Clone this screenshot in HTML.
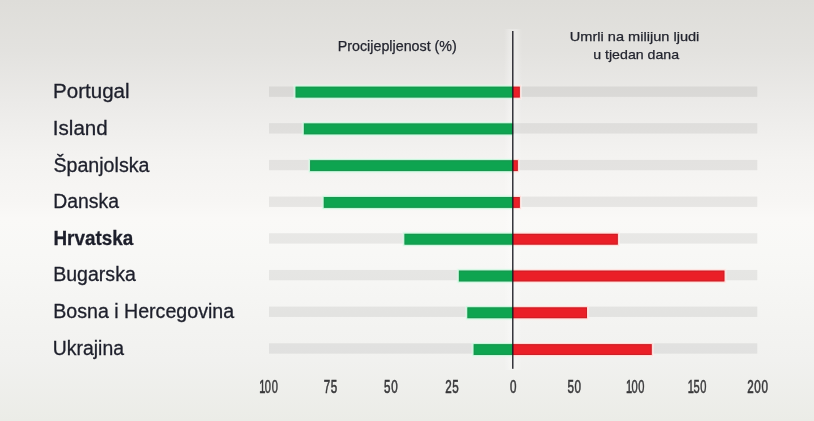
<!DOCTYPE html>
<html lang="hr"><head><meta charset="utf-8"><title>Procijepljenost i umrli</title>
<style>
html,body{margin:0;padding:0;background:#f5f5f3;}
body{width:814px;height:421px;overflow:hidden;font-family:"Liberation Sans",sans-serif;}
svg{display:block;}
.lbl{font-family:"Liberation Sans",sans-serif;font-size:20px;fill:#1d1f2b;stroke:#1d1f2b;stroke-width:0.3px;}
.hd{font-family:"Liberation Sans",sans-serif;font-size:14px;fill:#23252f;stroke:#23252f;stroke-width:0.25px;}
.hd2{font-size:13.5px;}
.ax{font-family:"Liberation Sans",sans-serif;font-size:17.6px;fill:#38383a;stroke:#38383a;stroke-width:0.5px;vector-effect:non-scaling-stroke;letter-spacing:1.0px;}
</style></head><body>
<svg width="814" height="421" viewBox="0 0 814 421">
<defs>
<linearGradient id="bg" x1="0" y1="0" x2="0" y2="1">
<stop offset="0" stop-color="#deddd9"/>
<stop offset="0.12" stop-color="#e3e2df"/>
<stop offset="0.24" stop-color="#ebeae8"/>
<stop offset="0.38" stop-color="#f4f3f1"/>
<stop offset="0.475" stop-color="#f7f6f4"/>
<stop offset="0.52" stop-color="#faf9f7"/>
<stop offset="0.60" stop-color="#f8f8f6"/>
<stop offset="0.71" stop-color="#f5f5f3"/>
<stop offset="0.855" stop-color="#f1f1ef"/>
<stop offset="1" stop-color="#ebece7"/>
</linearGradient>
<linearGradient id="lh" x1="0" y1="0" x2="1" y2="0">
<stop offset="0" stop-color="#fff" stop-opacity="0"/>
<stop offset="0.3" stop-color="#fff" stop-opacity="0.26"/>
<stop offset="0.7" stop-color="#fff" stop-opacity="0.26"/>
<stop offset="1" stop-color="#fff" stop-opacity="0"/>
</linearGradient>
</defs>
<rect x="0" y="0" width="814" height="421" fill="url(#bg)"/>
<rect x="504" y="29" width="18" height="341" fill="url(#lh)"/>

<rect x="269" y="86.50" width="488.3" height="10.4" fill="#000" fill-opacity="0.065"/>
<rect x="269" y="123.18" width="488.3" height="10.4" fill="#000" fill-opacity="0.065"/>
<rect x="269" y="159.86" width="488.3" height="10.4" fill="#000" fill-opacity="0.065"/>
<rect x="269" y="196.54" width="488.3" height="10.4" fill="#000" fill-opacity="0.065"/>
<rect x="269" y="233.22" width="488.3" height="10.4" fill="#000" fill-opacity="0.065"/>
<rect x="269" y="269.90" width="488.3" height="10.4" fill="#000" fill-opacity="0.065"/>
<rect x="269" y="306.58" width="488.3" height="10.4" fill="#000" fill-opacity="0.065"/>
<rect x="269" y="343.26" width="488.3" height="10.4" fill="#000" fill-opacity="0.065"/>
<rect x="293.4" y="84.50" width="219.4" height="15.2" fill="#e6fcef" fill-opacity="0.5"/>
<rect x="294.4" y="85.50" width="218.4" height="13.2" fill="#c6f6da" fill-opacity="0.95"/>
<rect x="512.8" y="84.50" width="9.2" height="15.2" fill="#fff1ef" fill-opacity="0.5"/>
<rect x="512.8" y="85.50" width="8.2" height="13.2" fill="#ffdad6" fill-opacity="0.95"/>
<rect x="295.6" y="86.70" width="217.2" height="10.8" fill="#0ea450"/>
<rect x="296.1" y="87.20" width="216.7" height="9.8" fill="none" stroke="#1f8a4c" stroke-opacity="0.55" stroke-width="1"/>
<rect x="512.8" y="86.70" width="7.0" height="10.8" fill="#ea1f27"/>
<rect x="512.8" y="87.20" width="6.5" height="9.8" fill="none" stroke="#b01c24" stroke-opacity="0.55" stroke-width="1"/>
<text class="lbl" id="l0" x="53.11" y="98.30" textLength="76.48" lengthAdjust="spacingAndGlyphs">Portugal</text>
<rect x="301.7" y="121.28" width="211.1" height="15.2" fill="#e6fcef" fill-opacity="0.5"/>
<rect x="302.7" y="122.28" width="210.1" height="13.2" fill="#c6f6da" fill-opacity="0.95"/>
<rect x="303.9" y="123.48" width="208.9" height="10.8" fill="#0ea450"/>
<rect x="304.4" y="123.98" width="208.4" height="9.8" fill="none" stroke="#1f8a4c" stroke-opacity="0.55" stroke-width="1"/>
<text class="lbl" id="l1" x="52.85" y="134.92" textLength="54.82" lengthAdjust="spacingAndGlyphs">Island</text>
<rect x="307.9" y="158.06" width="204.9" height="15.2" fill="#e6fcef" fill-opacity="0.5"/>
<rect x="308.9" y="159.06" width="203.9" height="13.2" fill="#c6f6da" fill-opacity="0.95"/>
<rect x="512.8" y="158.06" width="7.2" height="15.2" fill="#fff1ef" fill-opacity="0.5"/>
<rect x="512.8" y="159.06" width="6.2" height="13.2" fill="#ffdad6" fill-opacity="0.95"/>
<rect x="310.1" y="160.26" width="202.7" height="10.8" fill="#0ea450"/>
<rect x="310.6" y="160.76" width="202.2" height="9.8" fill="none" stroke="#1f8a4c" stroke-opacity="0.55" stroke-width="1"/>
<rect x="512.8" y="160.26" width="5.0" height="10.8" fill="#ea1f27"/>
<rect x="512.8" y="160.76" width="4.5" height="9.8" fill="none" stroke="#b01c24" stroke-opacity="0.55" stroke-width="1"/>
<text class="lbl" id="l2" x="53.39" y="171.54" textLength="96.07" lengthAdjust="spacingAndGlyphs">Španjolska</text>
<rect x="321.6" y="194.84" width="191.2" height="15.2" fill="#e6fcef" fill-opacity="0.5"/>
<rect x="322.6" y="195.84" width="190.2" height="13.2" fill="#c6f6da" fill-opacity="0.95"/>
<rect x="512.8" y="194.84" width="9.2" height="15.2" fill="#fff1ef" fill-opacity="0.5"/>
<rect x="512.8" y="195.84" width="8.2" height="13.2" fill="#ffdad6" fill-opacity="0.95"/>
<rect x="323.8" y="197.04" width="189.0" height="10.8" fill="#0ea450"/>
<rect x="324.3" y="197.54" width="188.5" height="9.8" fill="none" stroke="#1f8a4c" stroke-opacity="0.55" stroke-width="1"/>
<rect x="512.8" y="197.04" width="7.0" height="10.8" fill="#ea1f27"/>
<rect x="512.8" y="197.54" width="6.5" height="9.8" fill="none" stroke="#b01c24" stroke-opacity="0.55" stroke-width="1"/>
<text class="lbl" id="l3" x="53.19" y="208.16" textLength="65.74" lengthAdjust="spacingAndGlyphs">Danska</text>
<rect x="402.3" y="231.62" width="110.5" height="15.2" fill="#e6fcef" fill-opacity="0.5"/>
<rect x="403.3" y="232.62" width="109.5" height="13.2" fill="#c6f6da" fill-opacity="0.95"/>
<rect x="512.8" y="231.62" width="107.2" height="15.2" fill="#fff1ef" fill-opacity="0.5"/>
<rect x="512.8" y="232.62" width="106.2" height="13.2" fill="#ffdad6" fill-opacity="0.95"/>
<rect x="404.5" y="233.82" width="108.3" height="10.8" fill="#0ea450"/>
<rect x="405.0" y="234.32" width="107.8" height="9.8" fill="none" stroke="#1f8a4c" stroke-opacity="0.55" stroke-width="1"/>
<rect x="512.8" y="233.82" width="105.0" height="10.8" fill="#ea1f27"/>
<rect x="512.8" y="234.32" width="104.5" height="9.8" fill="none" stroke="#b01c24" stroke-opacity="0.55" stroke-width="1"/>
<text class="lbl" id="l4" x="53.44" y="244.78" font-weight="bold" textLength="79.73" lengthAdjust="spacingAndGlyphs">Hrvatska</text>
<rect x="456.7" y="268.40" width="56.1" height="15.2" fill="#e6fcef" fill-opacity="0.5"/>
<rect x="457.7" y="269.40" width="55.1" height="13.2" fill="#c6f6da" fill-opacity="0.95"/>
<rect x="512.8" y="268.40" width="213.8" height="15.2" fill="#fff1ef" fill-opacity="0.5"/>
<rect x="512.8" y="269.40" width="212.8" height="13.2" fill="#ffdad6" fill-opacity="0.95"/>
<rect x="458.9" y="270.60" width="53.9" height="10.8" fill="#0ea450"/>
<rect x="459.4" y="271.10" width="53.4" height="9.8" fill="none" stroke="#1f8a4c" stroke-opacity="0.55" stroke-width="1"/>
<rect x="512.8" y="270.60" width="211.6" height="10.8" fill="#ea1f27"/>
<rect x="512.8" y="271.10" width="211.1" height="9.8" fill="none" stroke="#b01c24" stroke-opacity="0.55" stroke-width="1"/>
<text class="lbl" id="l5" x="53.19" y="281.40" textLength="82.62" lengthAdjust="spacingAndGlyphs">Bugarska</text>
<rect x="465.2" y="305.18" width="47.6" height="15.2" fill="#e6fcef" fill-opacity="0.5"/>
<rect x="466.2" y="306.18" width="46.6" height="13.2" fill="#c6f6da" fill-opacity="0.95"/>
<rect x="512.8" y="305.18" width="76.4" height="15.2" fill="#fff1ef" fill-opacity="0.5"/>
<rect x="512.8" y="306.18" width="75.4" height="13.2" fill="#ffdad6" fill-opacity="0.95"/>
<rect x="467.4" y="307.38" width="45.4" height="10.8" fill="#0ea450"/>
<rect x="467.9" y="307.88" width="44.9" height="9.8" fill="none" stroke="#1f8a4c" stroke-opacity="0.55" stroke-width="1"/>
<rect x="512.8" y="307.38" width="74.2" height="10.8" fill="#ea1f27"/>
<rect x="512.8" y="307.88" width="73.7" height="9.8" fill="none" stroke="#b01c24" stroke-opacity="0.55" stroke-width="1"/>
<text class="lbl" id="l6" x="53.19" y="318.02" textLength="180.93" lengthAdjust="spacingAndGlyphs">Bosna i Hercegovina</text>
<rect x="471.5" y="341.96" width="41.3" height="15.2" fill="#e6fcef" fill-opacity="0.5"/>
<rect x="472.5" y="342.96" width="40.3" height="13.2" fill="#c6f6da" fill-opacity="0.95"/>
<rect x="512.8" y="341.96" width="141.1" height="15.2" fill="#fff1ef" fill-opacity="0.5"/>
<rect x="512.8" y="342.96" width="140.1" height="13.2" fill="#ffdad6" fill-opacity="0.95"/>
<rect x="473.7" y="344.16" width="39.1" height="10.8" fill="#0ea450"/>
<rect x="474.2" y="344.66" width="38.6" height="9.8" fill="none" stroke="#1f8a4c" stroke-opacity="0.55" stroke-width="1"/>
<rect x="512.8" y="344.16" width="138.9" height="10.8" fill="#ea1f27"/>
<rect x="512.8" y="344.66" width="138.4" height="9.8" fill="none" stroke="#b01c24" stroke-opacity="0.55" stroke-width="1"/>
<text class="lbl" id="l7" x="52.87" y="354.64" textLength="71.13" lengthAdjust="spacingAndGlyphs">Ukrajina</text>
<rect x="512.15" y="31" width="1.3" height="337.8" fill="#17171f"/>
<text class="hd" id="h0" x="337.76" y="50.5" textLength="119.06" lengthAdjust="spacingAndGlyphs">Procijepljenost (%)</text>
<text class="hd hd2" id="h1" x="569.81" y="41.4" textLength="129.54" lengthAdjust="spacingAndGlyphs">Umrli na milijun ljudi</text>
<text class="hd hd2" id="h2" x="593.21" y="58.5" textLength="85.91" lengthAdjust="spacingAndGlyphs">u tjedan dana</text>
<text class="ax" id="a0" transform="translate(259.31 393) scale(0.6300 1)" x="0" y="0">1<tspan dx="-2.0">00</tspan></text>
<text class="ax" id="a1" transform="translate(323.72 393) scale(0.6600 1)" x="0" y="0">75</text>
<text class="ax" id="a2" transform="translate(384.02 393) scale(0.6600 1)" x="0" y="0">50</text>
<text class="ax" id="a3" transform="translate(445.16 393) scale(0.6600 1)" x="0" y="0">25</text>
<text class="ax" id="a4" transform="translate(509.98 393) scale(0.6600 1)" x="0" y="0">0</text>
<text class="ax" id="a5" transform="translate(567.45 393) scale(0.6600 1)" x="0" y="0">50</text>
<text class="ax" id="a6" transform="translate(625.91 393) scale(0.6300 1)" x="0" y="0">1<tspan dx="-2.0">00</tspan></text>
<text class="ax" id="a7" transform="translate(687.86 393) scale(0.6300 1)" x="0" y="0">1<tspan dx="-2.0">50</tspan></text>
<text class="ax" id="a8" transform="translate(747.16 393) scale(0.6600 1)" x="0" y="0">200</text>
</svg></body></html>
